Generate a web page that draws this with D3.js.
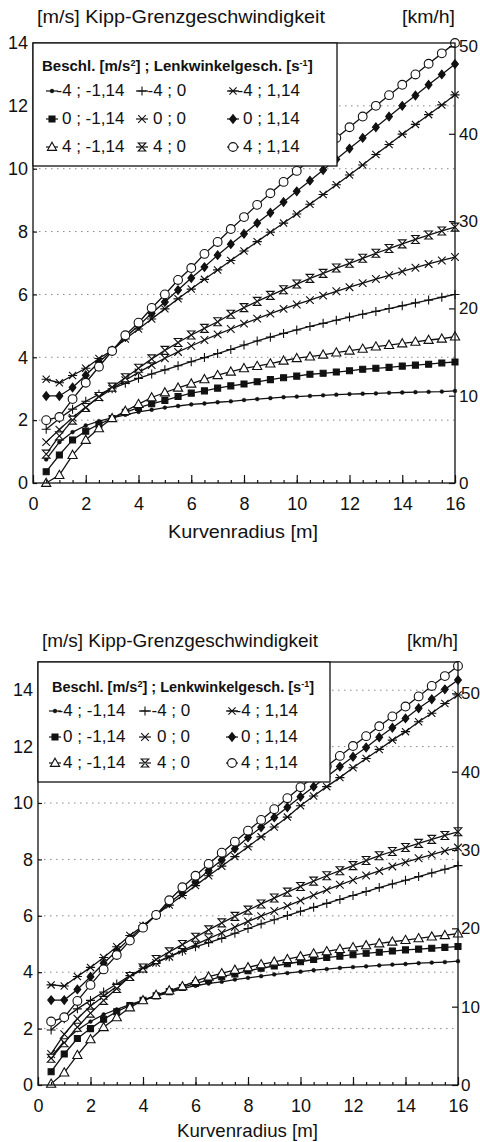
<!DOCTYPE html>
<html lang="de">
<head>
<meta charset="UTF-8">
<title>Kipp-Grenzgeschwindigkeit</title>
<script src="https://cdn.jsdelivr.net/npm/d3@7"></script>
<style>
  body { margin: 0; background: #fff; }
  svg { display: block; font-family: "Liberation Sans", Arial, sans-serif; fill: #111; }
  .grid line { stroke: #888; stroke-width: 1; stroke-dasharray: 1.5 4.5; }
  .line { fill: none; stroke: #111; stroke-width: 1.3; }
  .axis text { fill: #111; }
  .axis line { stroke: #111; stroke-width: 1.2; }
</style>
</head>
<body>
<svg width="480" height="1142"></svg>
<script>
// Kurvenradius [m]
const radius = [0.5, 1, 1.5, 2, 2.5, 3, 3.5, 4, 4.5, 5, 5.5, 6, 6.5, 7, 7.5, 8,
                8.5, 9, 9.5, 10, 10.5, 11, 11.5, 12, 12.5, 13, 13.5, 14, 14.5, 15, 15.5, 16];

// Beschl. ; Lenkwinkelgesch.
const legendLabels = ["-4 ; -1,14", "-4 ; 0", "-4 ; 1,14",
                      "0 ; -1,14", "0 ; 0", "0 ; 1,14",
                      "4 ; -1,14", "4 ; 0", "4 ; 1,14"];

const yTicks = [0, 2, 4, 6, 8, 10, 12, 14];
const kmhTicks = [0, 10, 20, 30, 40, 50];
const xTicks = [0, 2, 4, 6, 8, 10, 12, 14, 16];

// upper chart [m/s]
const top_m4_n = [0.75,1.3,1.62,1.83,1.97,2.07,2.17,2.26,2.33,2.4,2.45,2.5,2.53,2.57,2.6,2.64,2.67,2.7,2.73,2.75,2.77,2.79,2.81,2.83,2.84,2.85,2.87,2.88,2.89,2.9,2.91,2.93];
const top_m4_0 = [1.71,2.05,2.35,2.6,2.82,3.0,3.17,3.33,3.47,3.6,3.73,3.86,3.99,4.12,4.25,4.39,4.52,4.64,4.76,4.87,4.98,5.08,5.18,5.28,5.37,5.46,5.55,5.64,5.73,5.82,5.91,6.0];
const top_m4_p = [3.3,3.19,3.42,3.65,3.96,4.22,4.58,4.9,5.22,5.54,5.86,6.17,6.48,6.78,7.08,7.38,7.68,7.98,8.27,8.56,8.87,9.18,9.49,9.8,10.12,10.45,10.77,11.1,11.41,11.72,12.03,12.35];
const top_0_n = [0.36,0.89,1.37,1.65,1.87,2.05,2.25,2.4,2.52,2.63,2.75,2.86,2.93,3.02,3.09,3.15,3.22,3.29,3.35,3.4,3.46,3.49,3.53,3.57,3.62,3.65,3.68,3.72,3.75,3.78,3.82,3.85];
const top_0_0 = [1.3,1.7,2.08,2.42,2.72,3.0,3.27,3.52,3.75,3.97,4.17,4.36,4.55,4.73,4.9,5.07,5.23,5.39,5.54,5.68,5.82,5.96,6.1,6.23,6.36,6.49,6.61,6.73,6.85,6.97,7.08,7.19];
const top_0_p = [2.77,2.77,3.04,3.43,3.84,4.22,4.64,5.0,5.4,5.76,6.14,6.52,6.87,7.25,7.6,7.93,8.27,8.6,8.94,9.28,9.62,9.96,10.3,10.64,10.98,11.32,11.66,12.0,12.33,12.67,13.0,13.33];
const top_4_n = [0.0,0.25,0.89,1.37,1.74,2.06,2.29,2.51,2.72,2.88,3.03,3.16,3.3,3.43,3.54,3.65,3.72,3.8,3.89,3.97,4.02,4.08,4.15,4.21,4.27,4.34,4.39,4.44,4.49,4.55,4.59,4.66];
const top_4_0 = [0.92,1.5,2.0,2.4,2.75,3.05,3.35,3.65,3.95,4.22,4.47,4.71,4.92,5.13,5.37,5.58,5.78,5.97,6.15,6.33,6.51,6.67,6.84,6.99,7.15,7.31,7.46,7.61,7.75,7.89,8.02,8.14];
const top_4_p = [2.0,2.1,2.67,3.19,3.7,4.2,4.7,5.1,5.57,6.0,6.46,6.84,7.29,7.67,8.08,8.46,8.85,9.22,9.58,9.93,10.28,10.63,10.98,11.32,11.66,12.0,12.34,12.67,13.0,13.34,13.67,14.0];

// lower chart [m/s]
const bot_m4_n = [1.0,1.55,1.95,2.25,2.5,2.68,2.85,3.0,3.15,3.28,3.42,3.52,3.6,3.66,3.74,3.8,3.86,3.92,3.97,4.02,4.07,4.11,4.15,4.18,4.21,4.24,4.27,4.29,4.32,4.34,4.36,4.39];
const bot_m4_0 = [1.95,2.35,2.7,3.0,3.3,3.58,3.88,4.12,4.35,4.55,4.74,4.9,5.05,5.2,5.38,5.55,5.71,5.86,6.01,6.16,6.3,6.44,6.58,6.72,6.86,7.0,7.13,7.26,7.39,7.52,7.65,7.78];
const bot_m4_p = [3.55,3.51,3.85,4.17,4.52,4.9,5.3,5.65,6.03,6.38,6.72,7.07,7.42,7.76,8.1,8.45,8.8,9.15,9.5,9.9,10.25,10.58,10.9,11.25,11.58,11.9,12.23,12.53,12.88,13.18,13.53,13.83];
const bot_0_n = [0.47,1.1,1.65,2.0,2.33,2.6,2.82,3.0,3.16,3.31,3.46,3.6,3.72,3.84,3.94,4.05,4.14,4.22,4.3,4.37,4.45,4.52,4.57,4.62,4.67,4.71,4.75,4.79,4.82,4.85,4.88,4.91];
const bot_0_0 = [1.1,1.8,2.35,2.8,3.15,3.5,3.85,4.1,4.33,4.55,4.77,4.98,5.19,5.4,5.6,5.8,5.99,6.17,6.35,6.54,6.73,6.92,7.1,7.27,7.43,7.59,7.75,7.9,8.04,8.17,8.3,8.42];
const bot_0_p = [3.01,3.01,3.39,3.84,4.32,4.76,5.2,5.62,6.03,6.45,6.82,7.21,7.61,7.98,8.38,8.78,9.14,9.49,9.85,10.22,10.58,10.93,11.29,11.64,11.97,12.33,12.67,13.0,13.36,13.68,14.03,14.36];
const bot_4_n = [0.04,0.44,1.06,1.62,2.05,2.4,2.75,3.0,3.19,3.35,3.5,3.68,3.84,3.96,4.08,4.17,4.28,4.37,4.46,4.56,4.66,4.74,4.82,4.88,4.95,5.02,5.08,5.14,5.2,5.26,5.31,5.37];
const bot_4_0 = [0.95,1.5,2.05,2.55,3.0,3.42,3.85,4.15,4.45,4.72,4.98,5.24,5.5,5.75,5.98,6.2,6.42,6.63,6.84,7.04,7.23,7.42,7.6,7.78,7.96,8.13,8.28,8.42,8.57,8.71,8.85,8.98];
const bot_4_p = [2.25,2.4,2.98,3.55,4.1,4.61,5.12,5.58,6.03,6.55,7.01,7.42,7.84,8.24,8.63,9.02,9.4,9.78,10.17,10.56,10.93,11.3,11.67,12.02,12.37,12.72,13.07,13.42,13.78,14.15,14.5,14.86];

// marker per series (same order as legendLabels)
const markers = ["dot", "plus", "star", "square", "cross", "diamond", "triangle", "hourglass", "circle"];
const markerPath = {
  dot: "M-1.9,0A1.9,1.9 0 1,0 1.9,0A1.9,1.9 0 1,0 -1.9,0Z",
  plus: "M-4.5,0H4.5M0,-4.5V4.5",
  star: "M-3.6,-3.6L3.6,3.6M-3.6,3.6L3.6,-3.6M-4.6,0H4.6",
  square: "M-3,-3H3V3H-3Z",
  cross: "M-3.8,-3.8L3.8,3.8M-3.8,3.8L3.8,-3.8",
  diamond: "M0,-4.3L3.4,0L0,4.3L-3.4,0Z",
  triangle: "M0,-4.8L4.6,3.4H-4.6Z",
  hourglass: "M-3.8,-4H3.8L-3.8,4H3.8Z",
  circle: "M-4.4,0A4.4,4.4 0 1,0 4.4,0A4.4,4.4 0 1,0 -4.4,0Z"
};
const filled = {dot: true, square: true, diamond: true};
const open = {plus: true, cross: true, star: true};

const svg = d3.select("svg");

function drawMarker(sel, type) {
  sel.append("path")
    .attr("d", markerPath[type])
    .attr("fill", filled[type] ? "#111" : open[type] ? "none" : "#fff")
    .attr("stroke", "#111")
    .attr("stroke-width", type === "dot" ? 0.5 : 1.1);
}

function drawChart(c) {
  const g = svg.append("g");
  const x = d3.scaleLinear().domain([0, 16]).range([c.left, c.right]);
  const y = d3.scaleLinear().domain([0, c.ymax]).range([c.bottom, c.top]);
  const yk = d3.scaleLinear().domain([0, c.ymax * 3.6]).range([c.bottom, c.top]);

  // dotted grid
  g.append("g").attr("class", "grid")
    .selectAll("line").data(yTicks.filter(d => d > 0 && d < c.ymax)).join("line")
    .attr("x1", c.left).attr("x2", c.right)
    .attr("y1", d => y(d)).attr("y2", d => y(d));

  // series: lines first, then markers on top
  const line = d3.line().x((d, i) => x(radius[i])).y(d => y(d));
  c.series.forEach(vals => {
    g.append("path").attr("class", "line").attr("d", line(vals));
  });
  c.series.forEach((vals, k) => {
    g.append("g").selectAll("g").data(vals).join("g")
      .attr("transform", (d, i) => `translate(${x(radius[i])},${y(d)})`)
      .each(function () { drawMarker(d3.select(this), markers[k]); });
  });

  // frame
  g.append("rect")
    .attr("x", c.left).attr("y", c.top)
    .attr("width", c.right - c.left).attr("height", c.bottom - c.top)
    .attr("fill", "none").attr("stroke", "#111").attr("stroke-width", 1.3);

  // axes
  const ax = g.append("g").attr("class", "axis");
  ax.append("g").attr("transform", `translate(${c.left},0)`)
    .call(d3.axisLeft(y).tickValues(yTicks).tickSize(-4).tickPadding(5))
    .call(s => s.select(".domain").remove())
    .call(s => s.selectAll("text").attr("font-size", 18));
  ax.append("g").attr("transform", `translate(${c.right},0)`)
    .call(d3.axisRight(yk).tickValues(kmhTicks).tickSize(-6).tickPadding(c.kmhPad))
    .call(s => s.select(".domain").remove())
    .call(s => s.selectAll("text").attr("font-size", 17));
  ax.append("g").attr("transform", `translate(0,${c.bottom})`)
    .call(d3.axisBottom(x).tickValues(xTicks).tickSize(-8).tickPadding(14))
    .call(s => s.select(".domain").remove())
    .call(s => s.selectAll("text").attr("font-size", 18));
  ax.append("g").attr("transform", `translate(0,${c.bottom})`)
    .call(d3.axisBottom(x).tickValues(x.ticks(32)).tickSize(-3).tickFormat(""))
    .call(s => s.select(".domain").remove());
  ax.selectAll("g").attr("font-family", null);

  // titles
  g.append("text").attr("x", c.titleX).attr("y", c.titleY)
    .attr("font-size", 19).attr("textLength", c.titleW).attr("lengthAdjust", "spacingAndGlyphs")
    .text("[m/s]  Kipp-Grenzgeschwindigkeit");
  g.append("text").attr("x", c.kmhX).attr("y", c.titleY)
    .attr("font-size", 19).attr("textLength", c.kmhW).attr("lengthAdjust", "spacingAndGlyphs")
    .text("[km/h]");
  g.append("text").attr("x", c.xTitleX).attr("y", c.xTitleY)
    .attr("font-size", 19).attr("textLength", c.xTitleW).attr("lengthAdjust", "spacingAndGlyphs")
    .text("Kurvenradius  [m]");

  // legend
  const lg = g.append("g");
  lg.append("rect")
    .attr("x", c.left).attr("y", c.top)
    .attr("width", c.legW).attr("height", c.legH)
    .attr("fill", "#fff").attr("stroke", "#111").attr("stroke-width", 1.3);
  const lt = lg.append("text").attr("x", c.legTitleX).attr("y", c.legTitleY)
    .attr("font-size", c.legTitleSize).attr("font-weight", "bold");
  lt.append("tspan").text("Beschl. [m/s");
  lt.append("tspan").attr("font-size", 9).attr("baseline-shift", "super").text("2");
  lt.append("tspan").text("] ; Lenkwinkelgesch. [s");
  lt.append("tspan").attr("font-size", 9).attr("baseline-shift", "super").text("-1");
  lt.append("tspan").text("]");

  legendLabels.forEach((lab, i) => {
    const row = Math.floor(i / 3), col = i % 3;
    const ry = c.legRows[row];
    const mx = c.legMarkX[col];
    const it = lg.append("g");
    it.append("line").attr("x1", mx - 6).attr("x2", mx + 6).attr("y1", ry - 5).attr("y2", ry - 5)
      .attr("stroke", "#111").attr("stroke-width", 1.2);
    it.append("g").attr("transform", `translate(${mx},${ry - 5})`)
      .call(s => drawMarker(s, markers[i]));
    it.append("text")
      .attr("x", c.legTextX[col] - (lab[0] === "-" ? 5.5 : 0)).attr("y", ry)
      .attr("font-size", 17).text(lab);
  });
}

drawChart({
  series: [top_m4_n, top_m4_0, top_m4_p, top_0_n, top_0_0, top_0_p, top_4_n, top_4_0, top_4_p],
  ymax: 14, left: 33, right: 455, top: 43, bottom: 483, kmhPad: 4,
  titleX: 37, titleY: 23, titleW: 288, kmhX: 402, kmhW: 53,
  xTitleX: 168, xTitleY: 538, xTitleW: 150,
  legW: 304, legH: 123, legTitleX: 42, legTitleY: 71, legTitleSize: 15,
  legRows: [96, 124, 152], legMarkX: [52, 142, 233], legTextX: [62, 153, 243]
});

drawChart({
  series: [bot_m4_n, bot_m4_0, bot_m4_p, bot_0_n, bot_0_0, bot_0_p, bot_4_n, bot_4_0, bot_4_p],
  ymax: 15, left: 38, right: 458, top: 662, bottom: 1085, kmhPad: 3,
  titleX: 42, titleY: 647, titleW: 276, kmhX: 407, kmhW: 51,
  xTitleX: 177, xTitleY: 1137, xTitleW: 141,
  legW: 292, legH: 120, legTitleX: 52, legTitleY: 692, legTitleSize: 14.5,
  legRows: [716, 742, 768], legMarkX: [55, 145, 232], legTextX: [63, 157, 241]
});
</script>
</body>
</html>
